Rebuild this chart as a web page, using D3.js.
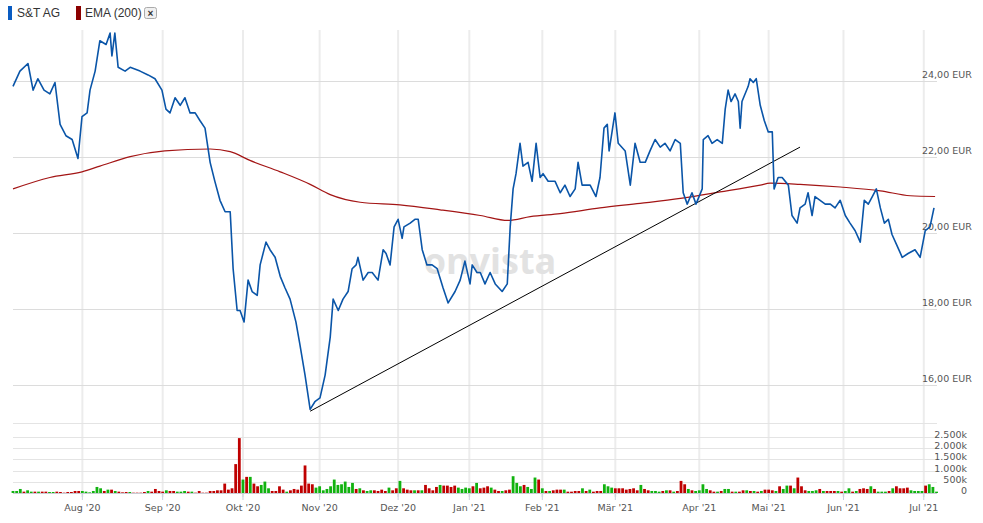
<!DOCTYPE html>
<html>
<head>
<meta charset="utf-8">
<script src="https://cdn.jsdelivr.net/npm/d3@7"></script>
<style>
  body { margin: 0; background: #fff; }
  svg { display: block; font-family: "DejaVu Sans", Verdana, sans-serif; }
</style>
</head>
<body>
<svg id="chart" width="983" height="523"></svg>
<script>
// trading-day index (from mid July 2020) and closing price in EUR
var priceDays = [0,1.9,4.1,5.5,6.8,8.5,10.1,11.5,12.9,14.5,16.2,17.8,18.9,20.3,21.1,22.5,23.8,25.5,26.6,27.1,27.9,28.8,30.7,32.1,34.8,37.0,38.9,40.8,41.9,43.0,44.4,45.8,47.1,48.5,49.9,51.2,52.6,54.0,55.3,56.7,58.1,59.5,60.3,61.4,62.2,63.3,64.4,65.5,66.9,67.7,69.3,70.4,71.8,73.2,74.5,75.9,77.5,78.6,80.0,81.4,82.7,84.1,85.5,86.9,87.7,89.1,90.4,91.8,92.9,94.0,94.5,95.9,97.3,98.4,100.0,101.4,102.2,103.3,104.4,105.5,106.6,107.1,108.8,110.1,111.0,112.1,113.4,114.8,116.2,117.8,119.2,121.1,122.5,123.8,125.2,125.8,127.1,128.0,129.3,130.7,132.1,134.0,135.4,136.2,137.0,137.8,138.9,139.7,141.1,142.2,143.3,144.4,145.2,146.6,148.5,149.9,151.2,152.6,154.0,154.8,155.9,158.1,159.7,160.8,161.9,162.8,163.3,164.9,165.8,167.7,169.1,170.4,171.8,173.2,174.5,175.9,177.3,178.6,180.0,181.4,182.8,183.6,184.7,186.0,187.1,188.8,189.1,190.4,191.5,192.9,194.3,195.1,195.9,196.7,197.8,198.7,199.2,199.7,201.4,201.9,202.8,203.6,204.7,205.8,206.9,208.0,208.5,209.6,210.7,212.4,213.4,214.8,215.6,217.0,217.8,218.9,219.7,221.1,222.5,223.9,225.2,226.6,228.0,229.3,230.7,232.1,233.2,234.3,235.4,236.5,237.6,238.7,239.8,240.8,242.2,243.6,245.2,247.1,248.5,249.9,251.2,252.3];
var priceValues = [23.86,24.26,24.46,23.76,24.06,23.76,23.66,23.96,22.86,22.56,22.46,21.96,23.06,23.16,23.76,24.26,25.06,24.96,25.26,24.66,25.26,24.36,24.26,24.36,24.26,24.16,24.06,23.76,23.26,23.16,23.56,23.36,23.56,23.16,23.16,22.96,22.76,21.86,21.36,20.86,20.56,20.56,19.06,17.96,17.96,17.66,18.76,18.46,18.36,19.16,19.76,19.56,19.36,18.86,18.56,18.26,17.66,17.06,16.26,15.36,15.56,15.66,16.26,17.26,18.26,17.96,18.26,18.46,19.06,19.16,19.36,18.76,18.96,18.96,18.76,19.56,19.46,19.16,20.16,20.36,19.86,20.16,20.26,20.36,20.36,19.56,19.16,19.16,19.06,18.56,18.16,18.46,18.76,19.26,18.66,19.16,18.96,18.96,18.66,18.96,18.66,18.46,18.66,20.16,21.16,21.56,22.36,21.76,21.86,21.36,22.36,21.46,21.56,21.36,21.36,21.06,21.26,20.96,21.16,21.86,21.26,21.26,20.96,21.46,22.76,22.86,22.16,23.16,22.36,22.16,21.26,22.36,21.86,21.86,22.16,22.46,22.26,22.36,22.16,22.46,22.36,21.06,20.76,21.06,20.76,21.16,22.46,22.56,22.36,22.46,22.36,23.26,23.76,23.46,23.66,23.46,22.76,23.46,23.86,24.06,23.96,24.06,23.36,22.96,22.66,22.66,21.16,21.46,21.46,21.26,20.46,20.26,20.66,20.76,21.06,20.46,20.96,20.86,20.76,20.76,20.66,20.86,20.46,20.26,20.06,19.76,20.86,20.76,20.96,21.16,20.66,20.26,20.36,19.96,19.66,19.36,19.46,19.56,19.36,20.06,20.16,20.66];

var emaDays = [0,10.1,18.9,23.8,32.1,41.6,54,59.5,64.9,73.2,81.4,86.9,95.1,106,117,128,135.6,141.7,149.9,160.8,171.8,182.8,193.7,204.7,207.4,215.6,226.6,237.6,245.8,252.6];
var emaValues = [21.16,21.46,21.61,21.76,22.01,22.16,22.21,22.14,21.91,21.61,21.28,21.01,20.81,20.74,20.61,20.46,20.33,20.43,20.51,20.66,20.78,20.91,21.08,21.26,21.31,21.28,21.21,21.11,20.98,20.96];

// trend line drawn on the chart: [day, price]
var trendLine = [[81.4, 15.31], [215.6, 22.26]];

// daily volume in thousands, u = up day, d = down day
var volumes = [[90,'u'],[90,'u'],[180,'u'],[60,'d'],[120,'u'],[60,'u'],[60,'d'],[60,'u'],[60,'d'],[60,'d'],[45,'u'],[45,'u'],[60,'d'],[45,'d'],[15,'d'],[45,'d'],[45,'d'],[90,'d'],[90,'d'],[90,'u'],[60,'u'],[30,'u'],[90,'u'],[270,'u'],[210,'u'],[90,'d'],[150,'u'],[150,'d'],[90,'u'],[60,'d'],[30,'d'],[45,'d'],[45,'u'],[15,'d'],[15,'d'],[15,'d'],[45,'d'],[90,'u'],[60,'d'],[180,'d'],[90,'d'],[60,'d'],[120,'u'],[90,'d'],[90,'d'],[60,'u'],[60,'u'],[90,'u'],[60,'d'],[60,'u'],[15,'d'],[90,'d'],[15,'d'],[15,'d'],[90,'d'],[90,'d'],[120,'d'],[120,'d'],[420,'d'],[150,'d'],[210,'d'],[1290,'d'],[2450,'d'],[600,'u'],[720,'d'],[720,'u'],[420,'d'],[300,'d'],[360,'u'],[510,'u'],[210,'u'],[90,'d'],[90,'d'],[300,'d'],[150,'d'],[60,'u'],[120,'d'],[180,'d'],[150,'d'],[330,'d'],[1230,'d'],[420,'d'],[390,'d'],[240,'u'],[300,'u'],[120,'u'],[180,'u'],[300,'u'],[600,'u'],[360,'u'],[390,'u'],[510,'u'],[270,'u'],[450,'u'],[180,'d'],[210,'u'],[120,'d'],[90,'u'],[120,'u'],[120,'d'],[90,'d'],[150,'d'],[90,'d'],[240,'u'],[120,'d'],[210,'d'],[540,'u'],[210,'d'],[150,'d'],[120,'d'],[120,'u'],[120,'d'],[120,'u'],[360,'d'],[210,'d'],[120,'d'],[270,'d'],[360,'u'],[330,'d'],[330,'d'],[270,'d'],[330,'d'],[240,'u'],[180,'u'],[240,'u'],[210,'u'],[300,'d'],[450,'u'],[210,'d'],[240,'d'],[300,'d'],[240,'u'],
  [150,'d'],[90,'d'],[90,'u'],[120,'d'],[150,'d'],[750,'u'],[450,'u'],[300,'u'],[360,'d'],[270,'u'],[180,'u'],[690,'u'],[600,'d'],[210,'u'],[90,'d'],[90,'u'],[120,'d'],[150,'d'],[150,'d'],[150,'u'],[60,'d'],[60,'d'],[90,'d'],[90,'d'],[210,'u'],[90,'d'],[150,'u'],[60,'d'],[90,'d'],[90,'d'],[390,'u'],[300,'u'],[240,'u'],[210,'d'],[210,'d'],[210,'d'],[150,'d'],[180,'d'],[210,'d'],[120,'d'],[360,'u'],[180,'d'],[120,'d'],[90,'u'],[90,'u'],[60,'u'],[90,'d'],[120,'u'],[120,'d'],[60,'u'],[90,'d'],[540,'d'],[390,'d'],[180,'u'],[120,'d'],[90,'u'],[120,'u'],[390,'u'],[180,'u'],[120,'d'],[60,'d'],[60,'u'],[90,'d'],[180,'u'],[180,'u'],[60,'d'],[60,'u'],[60,'d'],[120,'d'],[120,'u'],[90,'d'],[90,'u'],[60,'d'],[90,'u'],[150,'d'],[150,'d'],[120,'d'],[90,'u'],[300,'d'],[180,'u'],[330,'u'],[330,'d'],[210,'u'],[690,'d'],[300,'d'],[120,'d'],[90,'u'],[90,'u'],[120,'u'],[180,'d'],[90,'u'],[90,'d'],[90,'d'],[90,'d'],[90,'u'],[60,'d'],[90,'u'],[210,'u'],[60,'d'],[90,'u'],[180,'d'],[210,'d'],[180,'d'],[300,'u'],[180,'d'],[60,'u'],[60,'u'],[60,'u'],[90,'d'],[210,'u'],[300,'d'],[210,'d'],[210,'d'],[240,'d'],[120,'u'],[90,'u'],[90,'u'],[90,'u'],[330,'d'],[390,'u'],[270,'u'],[60,'u']];

// month starts as trading-day index
var monthDays = [19, 41, 63, 84, 105.5, 125, 145, 165, 188, 207, 227.5, 249.5];
var monthLabels = ["Aug '20", "Sep '20", "Okt '20", "Nov '20", "Dez '20", "Jan '21", "Feb '21", "Mär '21", "Apr '21", "Mai '21", "Jun '21", "Jul '21"];
var priceTicks = [16, 18, 20, 22, 24];
var volumeTicks = [0, 500, 1000, 1500, 2000, 2500];

var svg = d3.select('#chart');
var de = d3.formatLocale({decimal: ',', thousands: '.', grouping: [3], currency: ['', '']});
var fmtPrice = de.format(',.2f');
var fmtVol = de.format(',');

var x = d3.scaleLinear().domain([0, 252.3]).range([13, 934]);
var y = d3.scaleLinear().domain([16, 24]).range([385, 81]);
var yv = d3.scaleLinear().domain([0, 2500]).range([493, 437]);

// vertical gridlines
svg.append('g').selectAll('line').data(monthDays).join('line')
    .attr('x1', d => x(d)).attr('x2', d => x(d))
    .attr('y1', 30).attr('y2', 497)
    .attr('stroke', '#ececec').attr('stroke-width', 2);

// price gridlines
svg.append('g').selectAll('line').data(priceTicks).join('line')
    .attr('x1', 13).attr('x2', 937)
    .attr('y1', d => Math.round(y(d)) + 0.5).attr('y2', d => Math.round(y(d)) + 0.5)
    .attr('stroke', '#dcdcdc');
svg.append('g').selectAll('text').data(priceTicks).join('text')
    .attr('x', 922).attr('y', d => y(d) - 3)
    .attr('font-size', 9.5).attr('fill', '#555')
    .text(d => fmtPrice(d) + ' EUR');

// volume gridlines
svg.append('g').selectAll('line').data(volumeTicks.concat([3120])).join('line')
    .attr('x1', 13).attr('x2', 937)
    .attr('y1', d => Math.round(yv(d)) + 0.5).attr('y2', d => Math.round(yv(d)) + 0.5)
    .attr('stroke', d => d == 0 ? '#c8ccd4' : '#e4e4e4');
svg.append('g').selectAll('text').data(volumeTicks).join('text')
    .attr('x', 967).attr('y', d => yv(d) + 1)
    .attr('text-anchor', 'end')
    .attr('font-size', 9.5).attr('fill', '#555')
    .text(d => d == 0 ? '0' : fmtVol(d) + 'k');

// month ticks and labels
svg.append('g').selectAll('line').data(monthDays).join('line')
    .attr('x1', d => x(d)).attr('x2', d => x(d))
    .attr('y1', 493).attr('y2', 500)
    .attr('stroke', '#c8d0dc');
svg.append('g').selectAll('text').data(monthDays).join('text')
    .attr('x', d => x(d)).attr('y', 511)
    .attr('text-anchor', 'middle')
    .attr('font-size', 9.5).attr('fill', '#555')
    .text((d, i) => monthLabels[i]);

// watermark
svg.append('text')
    .attr('x', 490).attr('y', 274)
    .attr('text-anchor', 'middle')
    .attr('font-family', '"Open Sans", sans-serif')
    .attr('font-weight', 'bold')
    .attr('font-size', 36).attr('fill', '#e2e2e2')
    .text('onvista');

// volume bars
svg.append('g').selectAll('rect').data(volumes).join('rect')
    .attr('x', (d, i) => x(i) - 1.4)
    .attr('width', 2.8)
    .attr('y', d => yv(d[0]))
    .attr('height', d => yv(0) - yv(d[0]))
    .attr('fill', d => d[1] == 'u' ? '#11b20f' : '#bf0000');

// EMA line
var emaPts = emaDays.map((d, i) => [d, emaValues[i]]);
svg.append('path')
    .attr('d', d3.line().x(d => x(d[0])).y(d => y(d[1])).curve(d3.curveMonotoneX)(emaPts))
    .attr('fill', 'none').attr('stroke', '#a31515').attr('stroke-width', 1.2);

// trend line
svg.append('path')
    .attr('d', d3.line().x(d => x(d[0])).y(d => y(d[1]))(trendLine))
    .attr('fill', 'none').attr('stroke', '#000').attr('stroke-width', 1);

// price line
var pricePts = priceDays.map((d, i) => [d, priceValues[i]]);
svg.append('path')
    .attr('d', d3.line().x(d => x(d[0])).y(d => y(d[1]))(pricePts))
    .attr('fill', 'none').attr('stroke', '#0a55a8').attr('stroke-width', 1.6)
    .attr('stroke-linejoin', 'round');

// legend
var legend = svg.append('g').attr('font-family', '"Liberation Sans", Arial, sans-serif').attr('font-size', 12).attr('fill', '#333');
legend.append('rect').attr('x', 8).attr('y', 6).attr('width', 4).attr('height', 14).attr('fill', '#0a5cc2');
legend.append('text').attr('x', 17).attr('y', 17).text('S&T AG');
legend.append('rect').attr('x', 76).attr('y', 6).attr('width', 5).attr('height', 14).attr('fill', '#8b0000');
legend.append('text').attr('x', 85).attr('y', 17).text('EMA (200)');
legend.append('rect').attr('x', 144.5).attr('y', 7.5).attr('width', 12).attr('height', 11).attr('rx', 2)
    .attr('fill', '#f0f0f0').attr('stroke', '#aaa');
legend.append('text').attr('x', 150.5).attr('y', 16.5).attr('text-anchor', 'middle')
    .attr('font-size', 10).attr('font-weight', 'bold').attr('fill', '#333').text('×');
</script>
</body>
</html>
